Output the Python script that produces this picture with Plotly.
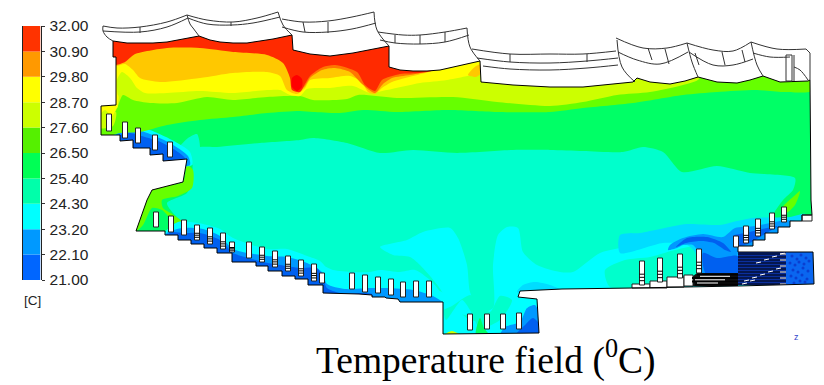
import plotly.graph_objects as go

# ---------- colour scale ----------
levels = [21.0, 22.1, 23.2, 24.3, 25.4, 26.5, 27.6, 28.7, 29.8, 30.9, 32.0]
level_labels = ["21.00", "22.10", "23.20", "24.30", "25.40", "26.50", "27.60", "28.70", "29.80", "30.90", "32.00"]
band_colors = ["#0066FF", "#0099FF", "#00FFFF", "#00FFAA", "#00FF55", "#55F000", "#CCFF00", "#FFFF00", "#FF9900", "#FF3300"]

C_DARK, C_BLUE, C_LBLUE, C_CYAN, C_TEAL, C_GREEN = "#0060F0", "#0099FF", "#00DDFF", "#00FFFF", "#00FFCC", "#00FF66"
C_LIME, C_YLIME, C_YEL, C_ORG, C_RORG, C_RED, C_CORE = "#66FF00", "#CCFF00", "#FFFF00", "#FFC800", "#FF7700", "#FF2A00", "#FF0000"

# ---------- fluid domain outline ----------
domain = [(113,41),(127,43),(140,43),(153,43),(167,42),(183,39),(199,36),(210,40),(220,42),(233,43),(247,43),(260,41),(273,39),(292,35),(293,50),(310,54),(330,56),(353,53),(389,46),
 (389,67),(400,70),(413,71),(427,71),(440,70),(480,61),(481,82),(513,85),(550,87),(583,87),(633,82),(637,78),(650,82),(670,84),(685,81),(698,77),(717,82),
 (737,83),(750,80),(763,76),(780,82),(808,81),(810,80),(811,200),(812,215),(802,215),(802,221),(790,221),(790,227),(778,227),(778,233),
 (765,233),(765,240),(753,240),(753,246),(738,246),(738,252),(813,252),(814,284),(738,286),(633,288),(562,289),(520,291),(518,297),
 (537,299),(539,333),(443,334),(443,302),(400,302),(398,299),(386,298),(385,297),(372,297),(372,295),(359,294),(323,293),(323,285),
 (308,285),(308,279),(295,279),(295,276),(282,276),(282,271),(268,271),(268,266),(256,266),(256,262),(232,262),(232,253),(217,253),
 (217,248),(204,248),(204,244),(191,244),(191,240),(178,240),(178,235),(165,235),(165,231),(136,231),(147,200),(152,190),(183,182),
 (187,159),(163,161),(163,154),(150,155),(150,148),(133,148),(133,140),(120,141),(120,135),(101,135),(101,106),(116,105),(116,57),(113,57)]
frame = [(0,0),(0,385),(824,385),(824,0),(0,0)]

# ---------- temperature regions, warm side ----------
t_27_6 = [(90,140),(120,133),(140,132),(167,125),(200,120),(233,117),(267,113),(300,111),(313,112),(340,113),(363,110),(397,112),(447,110),(497,112),(550,112),(583,108),(633,103),(683,95),(717,92),(757,90),(783,92),(815,90),(815,60),(90,20)]
t_28_7 = [(100,118),(115,112),(123,95),(133,100),(150,103),(177,103),(207,97),(233,100),(267,97),(300,96),(313,100),(347,99),(358,95),(397,98),(453,97),(497,102),(550,106),(583,102),(617,95),(650,92),(683,85),(699,79),(702,60),(100,20)]
t_29_8 = [(117,108),(117,80),(122,72),(130,78),(137,88),(145,93),(167,93),(200,91),(233,93),(267,90),(280,90),(290,95),(300,96),(307,89),(330,88),(353,86),(370,93),(387,90),(420,83),(447,80),(485,70),(510,40),(100,20),(100,108)]
t_sliver = [(481,81),(550,86),(600,84),(640,77),(600,70),(500,70)]
t_left_y = [(96,118),(105,110),(112,116),(118,103),(118,95),(96,95)]
t_30_9 = [(116,66),(125,64),(133,70),(140,78),(160,82),(200,78),(233,73),(267,72),(280,76),(287,90),(297,94),(305,88),(310,80),(330,78),(350,76),(362,82),(368,92),(375,94),(382,88),(392,82),(413,76),(437,70),(450,66),(455,30),(100,20),(100,66)]
t_r_patch = [(468,75),(476,66),(482,64),(482,72),(476,77)]
t_31_4 = [(292,60),(300,90),(305,86),(310,78),(322,70),(335,68),(350,72),(362,84),(375,93),(383,84),(392,78),(410,75),(430,71),(440,68),(430,40),(300,40)]
t_32 = [(116,65),(125,62),(131,57),(135,54),(167,48),(200,48),(233,52),(267,55),(283,63),(290,78),(292,90),(300,92),(305,84),(310,76),(323,67),(335,65),(357,72),(365,85),(375,91),(382,80),(400,74),(420,73),(433,70),(435,60),(400,30),(100,20),(100,65)]
t_core = [(292,78),(297,75),(302,79),(302,87),(297,91),(292,87)]
t_left_g = [(100,112),(116,112),(113,126),(100,128)]

# ---------- temperature regions, cool side ----------
t_25_4 = [(197,148),(217,147),(260,143),(300,140),(313,138),(347,143),(380,153),(413,150),(457,153),(513,150),(550,150),(583,151),(623,152),(643,147),(663,152),(682,172),(717,166),(750,173),(795,178),(793,190),(783,200),(773,217),(800,220),(815,300),(330,310),(230,250),(183,222),(173,213),(167,203),(187,193),(192,180),(193,160)]
t_tongue = [(178,150),(188,138),(197,134),(200,150),(193,165),(186,158)]
t_24_3a = [(380,247),(407,240),(423,232),(450,228),(458,238),(467,265),(470,292),(480,312),(493,308),(493,265),(498,235),(507,227),(518,228),(523,252),(537,265),(560,272),(573,272),(600,253),(633,245),(667,230),(700,227),(733,227),(767,223),(787,222),(802,215),(815,300),(445,310),(442,292),(420,265),(410,257),(393,255)]
t_24_3b = [(320,265),(333,270),(353,272),(370,272),(380,270),(400,272),(415,270),(430,280),(440,292),(443,305),(340,305)]
t_24_3c = [(445,300),(445,336),(540,336),(540,300),(500,300),(490,320),(470,320)]
t_teal_r = [(605,270),(625,260),(650,257),(675,250),(695,247),(700,270),(690,280),(610,287)]
t_teal_pit = [(446,320),(462,300),(470,310),(480,328),(500,320),(512,300),(500,296),(490,312),(478,300),(470,295),(452,306),(444,310)]
t_green_pit = [(444,335),(452,331),(462,336)]
t_green_pit2 = [(476,335),(480,318),(484,328),(490,336)]
t_streak = [(783,207),(793,197),(800,191),(795,205),(786,213)]
t_lime_l = [(150,190),(183,182),(187,165),(193,170),(192,188),(178,196),(162,200),(163,208),(172,214),(182,222),(178,226),(162,210),(152,208),(143,225),(135,232)]

t_23_2r = [(620,235),(640,233),(660,229),(687,224),(720,225),(733,222),(753,218),(790,217),(805,214),(805,225),(790,225),(778,235),(765,240),(753,247),(740,258),(720,275),(700,275),(695,252),(687,245),(663,243),(620,253)]
t_22_1r = [(668,250),(670,245),(683,238),(703,234),(723,237),(735,228),(755,226),(787,220),(800,222),(790,228),(778,234),(765,240),(753,247),(738,253),(737,275),(700,275),(698,252),(693,245),(683,245),(677,248)]
t_21_r1 = [(676,247),(687,238),(707,237),(723,243),(731,252),(725,250),(714,243),(700,241),(686,243)]
t_21_r2 = [(703,253),(717,258),(738,256),(738,275),(706,274)]
t_21_r3 = [(733,236),(745,233),(778,226),(765,234),(750,243),(738,246)]

t_23_2l = [(165,232),(178,222),(203,224),(220,229),(233,238),(267,249),(287,249),(307,256),(320,261),(328,270),(333,277),(347,282),(370,283),(385,281),(400,282),(420,285),(443,293),(443,304),(330,304),(230,266),(165,236)]
t_22_1l = [(168,232),(183,228),(203,229),(220,236),(233,249),(267,256),(287,257),(307,263),(322,272),(327,284),(345,289),(370,288),(387,288),(413,290),(433,296),(443,303),(330,304),(230,266),(165,236)]
t_21_l = [(173,232),(183,233),(200,233),(220,240),(233,253),(245,257),(263,262),(280,265),(300,268),(317,268),(323,278),(327,288),(340,293),(372,294),(372,300),(323,297),(230,266),(165,236)]

t_st_cy = [(112,133),(130,124),(150,130),(172,140),(190,152),(192,165),(160,165),(120,145)]
t_st_lb = [(116,135),(130,128),(150,134),(170,143),(188,156),(190,165),(160,165),(120,145)]
t_st_dk = [(118,136),(130,133),(145,137),(158,141),(172,148),(185,158),(186,166),(160,165),(120,145)]

t_pit_lb = [(500,336),(505,327),(520,322),(527,308),(535,305),(541,320),(541,337)]
t_pit_dk = [(515,336),(525,325),(533,318),(540,325),(541,337)]
t_floor_lb = [(517,292),(523,285),(535,282),(550,285),(565,292)]

warm_layers = [(t_27_6,C_LIME),(t_28_7,C_YLIME),(t_left_g,C_YLIME),(t_29_8,C_YEL),(t_sliver,C_YEL),(t_left_y,C_YEL),(t_30_9,C_ORG),(t_r_patch,C_ORG),(t_31_4,C_RORG),(t_32,C_RED),(t_core,C_CORE)]
cool_layers = [(t_25_4,C_TEAL),(t_tongue,C_TEAL),(t_24_3a,C_CYAN),(t_24_3b,C_CYAN),(t_24_3c,C_CYAN),(t_teal_r,C_TEAL),(t_teal_pit,C_TEAL),(t_green_pit,C_YLIME),(t_green_pit2,C_GREEN),(t_streak,C_LIME),(t_lime_l,C_LIME),
 (t_23_2r,C_LBLUE),(t_22_1r,C_BLUE),(t_21_r1,C_DARK),(t_21_r2,C_DARK),(t_21_r3,C_DARK),
 (t_23_2l,C_CYAN),(t_22_1l,C_BLUE),(t_21_l,C_DARK),(t_st_cy,C_CYAN),(t_st_lb,C_BLUE),(t_st_dk,C_DARK),(t_pit_lb,C_BLUE),(t_pit_dk,C_DARK),(t_floor_lb,C_LBLUE)]

# ---------- roof outlines ----------
roofs = [
 [(103,26),(117,28),(140,27),(167,22),(187,15)],
 [(187,15),(207,20),(233,22),(257,18),(278,12)],
 [(103,31),(140,32),(167,27),(188,18)],
 [(188,18),(207,24),(232,25),(253,23),(280,17)],
 [(103,26),(103,31),(107,37),(113,41)],
 [(187,15),(190,24),(193,28),(199,36)],
 [(278,12),(283,25),(292,35)],
 [(282,19),(303,22),(328,21),(352,17),(374,12)],
 [(282,27),(303,32),(328,32),(352,29),(376,23)],
 [(374,12),(377,30),(389,46)],
 [(378,32),(403,35),(420,35),(445,32),(467,28)],
 [(380,40),(395,43),(420,44),(445,42),(469,35)],
 [(467,28),(470,47),(480,61)],
 [(472,49),(510,54),(550,54),(583,54),(616,51)],
 [(477,58),(510,62),(550,63),(587,61),(618,58)],
 [(483,66),(510,69),(550,70),(587,68),(618,65)],
 [(616,38),(643,48),(667,48),(687,43)],
 [(618,52),(637,60),(660,64),(688,52)],
 [(617,40),(622,67),(635,82)],
 [(687,43),(713,50),(733,51),(751,42)],
 [(689,52),(713,65),(733,65),(753,59)],
 [(687,43),(692,62),(698,77)],
 [(751,42),(777,49),(806,49)],
 [(753,53),(770,57),(790,57)],
 [(751,42),(757,65),(763,76)],
 [(794,67),(800,70),(808,80)],
]
roof_straight = [
 [(806,49),(810,53),(810,80)],
 [(786,55),(792,55),(792,81),(786,81),(786,55)],
 [(794,55),(794,81)],
 [(648,48),(652,60)],[(665,49),(669,64)],[(695,53),(699,65)],[(722,52),(725,65)],[(742,50),(745,62)],
 [(140,27),(140,33)],[(231,22),(231,26)],[(303,22),(305,32)],[(328,22),(328,33)],[(395,35),(395,43)],[(420,35),(420,44)],[(445,32),(445,42)],[(510,54),(510,62)],[(587,54),(587,62)],
]

# ---------- air terminals: x centre, top, bottom ----------
term_x = [109,125,138,155,170,156,171,184,197,210,223,232,249,262,275,288,301,314,322,352,365,378,391,403,416,429,470,487,503,519,642,660,680,699,736,746,758,772,784]
term_top = [114,122,128,135,142,212,216,220,225,228,233,242,242,247,251,256,260,264,273,273,275,277,279,282,281,281,314,314,314,313,261,258,254,249,236,226,219,213,207]
term_bot = [131,138,143,150,157,227,232,235,240,244,249,252,258,262,267,271,276,281,283,289,292,293,295,297,297,297,330,329,329,329,285,282,278,273,247,243,236,229,222]
term_hatched = [197,210,223,232,262,275,288,301,314,699,746,758,772,784,642,660,680]

# ---------- heat-exchanger block ----------
pane_rows = [254,257,260,263,266,269,272,275,278,281,284]
pane_dash_x = [744,752,760,768,776,756,764,772,780,742,750]
pane_dash_y = [281,278,275,272,269,263,260,257,254,284,281]
fleck_x = [792,797,801,806,790,795,799,804,809,793,798,803,808,791,796,802,807,794,800,805]
fleck_y = [256,259,255,258,263,265,262,264,261,270,272,268,271,276,278,275,279,283,281,282]
slab_base = [(697,273),(738,273),(738,286),(692,286),(692,277)]
slabs_y = [274.5,278,281.5,284.5]
slabs_x0 = [697,692,692,695]
box_x0 = [632,650,667,684]
box_x1 = [650,667,684,693]
box_y0 = [284,281,277,275]
box_y1 = [288,288,287,286]
wall_box = [(802,215),(812,215),(812,221),(802,221),(802,215)]

fig = go.Figure()

def poly(pts, color):
    fig.add_trace(go.Scatter(x=[p[0] for p in pts]+[pts[0][0]], y=[p[1] for p in pts]+[pts[0][1]], mode="lines", fill="toself",
        fillcolor=color, line=dict(width=0, shape="spline", smoothing=0.7), hoverinfo="skip", showlegend=False))

def sharp(pts, color):
    fig.add_trace(go.Scatter(x=[p[0] for p in pts], y=[p[1] for p in pts], mode="lines", fill="toself",
        fillcolor=color, line=dict(width=0), hoverinfo="skip", showlegend=False))

def segs(seglist, color, width, shape="linear"):
    xs, ys = [], []
    for s in seglist:
        xs += [p[0] for p in s]+[None]
        ys += [p[1] for p in s]+[None]
    fig.add_trace(go.Scatter(x=xs, y=ys, mode="lines", line=dict(color=color, width=width, shape=shape), hoverinfo="skip", showlegend=False))

sharp(domain, C_GREEN)
for pts, c in cool_layers + warm_layers:
    poly(pts, c)
# block background
sharp([(738,252),(786,252),(786,285),(738,285)], "#0B2F9E")
sharp([(786,252),(813,252),(814,284),(786,285)], "#0A66F0")
fig.add_trace(go.Scatter(x=fleck_x, y=fleck_y, mode="markers", marker=dict(size=3, color="#0A3FD0"), hoverinfo="skip", showlegend=False))
segs([[(738,y),(786,y)] for y in pane_rows], "#000000", 1)
segs([[(x,y),(x+5,y-1)] for x,y in zip(pane_dash_x,pane_dash_y)], "#FFFFFF", 1)
segs([[(780,y),(786,y)] for y in pane_rows[::2]], "#FFFFFF", 1)
# mask outside the domain
mask = domain + [domain[0]] + frame + [domain[0]]
sharp(mask, "#FFFFFF")
# boxes and slabs
sharp(slab_base, "#111111")
for a,b,c,d in zip(box_x0,box_x1,box_y0,box_y1):
    fig.add_trace(go.Scatter(x=[a,b,b,a,a], y=[c,c,d,d,c], mode="lines", fill="toself", fillcolor="#FFFFFF",
        line=dict(color="#222222", width=1), hoverinfo="skip", showlegend=False))
segs([[(x,y),(738,y)] for x,y in zip(slabs_x0,slabs_y)], "#000000", 2)
segs([[(700,276.3),(730,276.3)],[(695,279.8),(725,279.8)],[(697,283),(718,283)]], "#FFFFFF", 1)
# domain outline and roofs
segs([domain+[domain[0]]], "#000000", 1)
segs(roofs, "#333333", 1, "spline")
segs(roof_straight, "#333333", 1)
segs([wall_box], "#222222", 1)
# terminals
tx, ty = [], []
for x, a, b in zip(term_x, term_top, term_bot):
    tx += [x-2.5, x+2.5, x+2.5, x-2.5, x-2.5, None]
    ty += [a, a, b, b, a, None]
fig.add_trace(go.Scatter(x=tx, y=ty, mode="lines", fill="toself", fillcolor="#FFFFFF", line=dict(color="#222222", width=1), hoverinfo="skip", showlegend=False))
rungs = []
for x, a, b in zip(term_x, term_top, term_bot):
    if x in term_hatched:
        for f in (0.55, 0.68, 0.82):
            rungs.append([(x-2.5, a+(b-a)*f), (x+2.5, a+(b-a)*f)])
segs(rungs, "#000000", 1)

# colour bar on its own axes
for i, c in enumerate(band_colors):
    fig.add_trace(go.Bar(x=[0], y=[levels[i+1]-levels[i]], base=levels[i], width=1, marker=dict(color=c, line=dict(width=0), opacity=1),
        xaxis="x2", yaxis="y2", hoverinfo="skip", showlegend=False))

fig.update_layout(
    width=824, height=385, margin=dict(l=0, r=0, t=0, b=0), paper_bgcolor="#FFFFFF", plot_bgcolor="rgba(0,0,0,0)",
    barmode="overlay", showlegend=False,
    xaxis=dict(range=[0,824], visible=False, domain=[0,1], fixedrange=True, automargin=False),
    yaxis=dict(range=[385,0], visible=False, domain=[0,1], fixedrange=True, automargin=False),
    xaxis2=dict(range=[-0.5,0.5], visible=False, domain=[22.5/824, 40.5/824], anchor="y2", automargin=False),
    yaxis2=dict(range=[21,32], domain=[(385-280)/385, (385-26)/385], anchor="x2", side="right", tickmode="array", tickvals=levels, ticktext=level_labels, automargin=False,
        ticks="outside", ticklen=3, tickcolor="#333333", showline=True, linecolor="#222222", linewidth=1, mirror=True, showgrid=False, zeroline=False, ticklabelstandoff=2,
        tickfont=dict(family="Liberation Sans, Arial, sans-serif", size=15.5, color="#222222")),
    annotations=[
        dict(x=32, y=300, xref="x", yref="y", text="[C]", showarrow=False, font=dict(family="Liberation Sans, Arial, sans-serif", size=13.5, color="#222222")),
        dict(x=486, y=358, xref="x", yref="y", text="Temperature field (<sup>0</sup>C)", showarrow=False, font=dict(family="Liberation Serif, Times New Roman, serif", size=37.5, color="#000000")),
        dict(x=796, y=337, xref="x", yref="y", text="z", showarrow=False, font=dict(family="Liberation Sans, Arial, sans-serif", size=9, color="#3344CC")),
    ],
)
fig.write_html("out.html", config=dict(displayModeBar=False), post_script="document.body.style.margin='0';document.body.style.overflow='hidden';")
